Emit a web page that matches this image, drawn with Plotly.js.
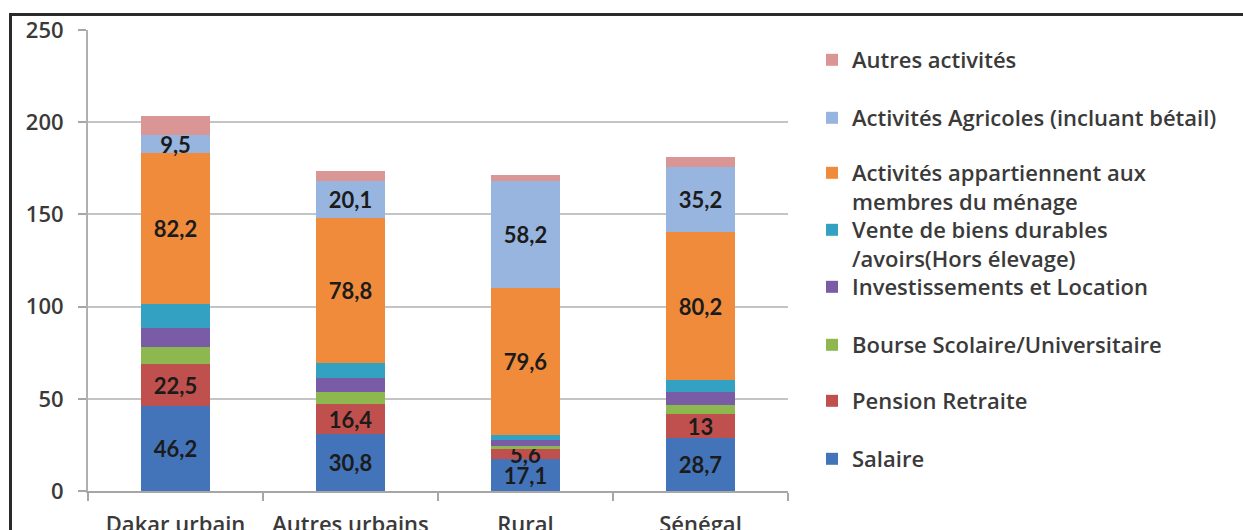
<!DOCTYPE html>
<html>
<head>
<meta charset="utf-8">
<script src="https://cdn.plot.ly/plotly-3.0.1.min.js"></script>
<style>
  html, body { margin: 0; padding: 0; background: #fff; }
  #wrap { position: relative; width: 1243px; height: 530px; overflow: hidden; }
  #chart { position: absolute; left: 0; top: 0; width: 1243px; height: 530px; }
  #frame { position: absolute; left: 9px; top: 13px; width: 1240px; height: 520px;
           border-left: 3px solid #2a2a2a; border-top: 3px solid #2a2a2a; pointer-events: none; }
</style>
</head>
<body>
<div id="wrap"><div id="chart"></div><div id="frame"></div></div>
<script>
// ---- Data ----
const categories = ["Dakar urbain", "Autres urbains", "Rural", "Sénégal"];

const salaire      = [46.2, 30.8, 17.1, 28.7];
const pension      = [22.5, 16.4, 5.6, 13];
const bourse       = [9.5, 6.6, 1.8, 4.9];
const investiss    = [10.0, 7.3, 3.3, 7.2];
const venteBiens   = [13.0, 8.1, 2.5, 6.4];
const activMenage  = [82.2, 78.8, 79.6, 80.2];
const activAgri    = [9.5, 20.1, 58.2, 35.2];
const autres       = [10.7, 5.3, 3.2, 5.6];

const seriesNames = [
  "Salaire",
  "Pension Retraite",
  "Bourse Scolaire/Universitaire",
  "Investissements et Location",
  "Vente de biens durables<br>/avoirs(Hors élevage)",
  "Activités appartiennent aux<br>membres du ménage",
  "Activités Agricoles (incluant bétail)",
  "Autres activités"
];
const seriesValues = [salaire, pension, bourse, investiss, venteBiens, activMenage, activAgri, autres];
const seriesLabelled = [true, true, false, false, false, true, true, false];
const seriesColors = ["#4374B9", "#C0504D", "#8DB84F", "#7A5BA5", "#33A1C2", "#F08B3C", "#98B5E0", "#DA9694"];

const yTicks = [0, 50, 100, 150, 200, 250];

// ---- Layout helpers ----
const FONT_VAL = "Lato, 'Open Sans', sans-serif";
const FONT_TXT = "'Open Sans', Lato, sans-serif";
const plotTop = 30, plotBottom = 491;
function py(p) { return (plotBottom - p) / (plotBottom - plotTop); }
const legendCenters = [459, 401, 345, 287, 230, 173, 118, 60];

const traces = seriesValues.map((vals, i) => ({
  type: "bar",
  name: seriesNames[i],
  x: categories,
  y: vals,
  marker: { color: seriesColors[i], line: { width: 0 } },
  text: seriesLabelled[i] ? vals.map(v => String(v).replace(".", ",")) : undefined,
  textposition: seriesLabelled[i] ? "inside" : "none",
  insidetextanchor: "middle",
  textangle: 0,
  constraintext: "none",
  textfont: { family: FONT_VAL, size: 22, color: "#1b1b1b", weight: 700 },
  legend: i === 0 ? "legend" : "legend" + (i + 1),
  hoverinfo: "x+y+name"
}));

const layout = {
  width: 1243,
  height: 530,
  margin: { l: 88, r: 455, t: plotTop, b: 530 - plotBottom, pad: 0 },
  paper_bgcolor: "#ffffff",
  plot_bgcolor: "#ffffff",
  barmode: "stack",
  bargap: 0.605,
  font: { family: FONT_TXT, size: 20, color: "#3a3a3a" },
  showlegend: true,
  xaxis: {
    type: "category",
    tickson: "boundaries",
    ticks: "outside",
    ticklen: 8,
    tickwidth: 2,
    tickcolor: "#a6a6a6",
    showline: true,
    linecolor: "#a6a6a6",
    linewidth: 2,
    showgrid: false,
    tickfont: { family: FONT_TXT, size: 22, color: "#3a3a3a", weight: 600 },
    ticklabelstandoff: 13
  },
  yaxis: {
    range: [0, 250],
    tickvals: yTicks,
    ticktext: yTicks.map(String),
    ticks: "outside",
    ticklen: 8,
    tickwidth: 2,
    tickcolor: "#a6a6a6",
    showline: true,
    linecolor: "#b0b0b0",
    linewidth: 2,
    showgrid: true,
    gridcolor: "#c4c4c4",
    gridwidth: 2,
    zeroline: false,
    tickfont: { family: FONT_TXT, size: 22, color: "#3a3a3a", weight: 600 },
    ticklabelstandoff: 10
  }
};

for (let i = 0; i < seriesNames.length; i++) {
  const key = i === 0 ? "legend" : "legend" + (i + 1);
  layout[key] = {
    x: (812 - 88) / 700,
    xanchor: "left",
    y: py(legendCenters[i] - 21),
    yanchor: "top",
    valign: "top",
    bgcolor: "rgba(0,0,0,0)",
    borderwidth: 0,
    font: { family: FONT_TXT, size: 22, color: "#3a3a3a", weight: 600 },
    itemwidth: 30
  };
}

Plotly.newPlot("chart", traces, layout, { staticPlot: true, displayModeBar: false });
</script>
</body>
</html>
